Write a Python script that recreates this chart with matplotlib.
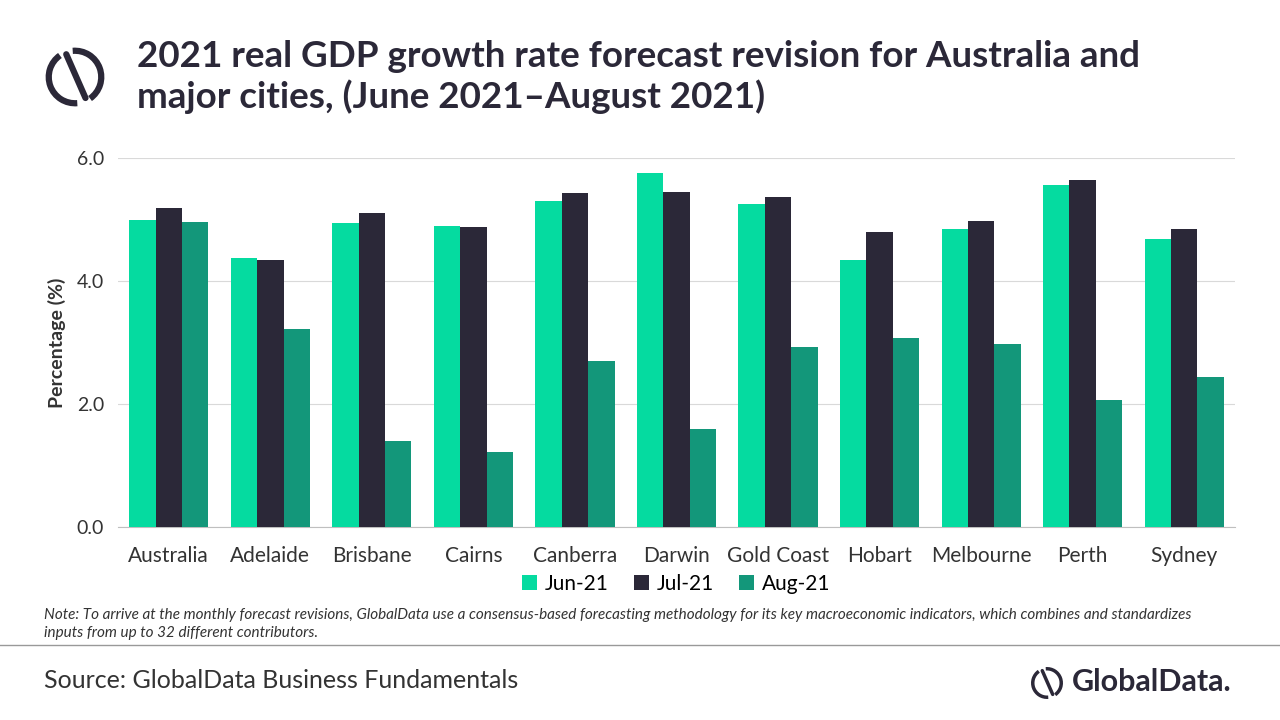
import matplotlib.pyplot as plt
import numpy as np
from matplotlib.patches import Arc
from matplotlib.lines import Line2D

plt.rcParams['font.family'] = ['Lato', 'DejaVu Sans']

cities = ['Australia', 'Adelaide', 'Brisbane', 'Cairns', 'Canberra', 'Darwin',
          'Gold Coast', 'Hobart', 'Melbourne', 'Perth', 'Sydney']
jun21 = [4.99, 4.37, 4.95, 4.89, 5.30, 5.76, 5.25, 4.34, 4.85, 5.56, 4.68]
jul21 = [5.19, 4.34, 5.10, 4.88, 5.43, 5.45, 5.37, 4.80, 4.98, 5.64, 4.84]
aug21 = [4.96, 3.22, 1.40, 1.22, 2.70, 1.59, 2.93, 3.07, 2.98, 2.07, 2.44]
series = [('Jun-21', jun21, '#05DBA0'), ('Jul-21', jul21, '#2B2838'), ('Aug-21', aug21, '#13977A')]

fig = plt.figure(figsize=(12.8, 7.2), dpi=100)
ax = fig.add_axes([118 / 1280, 1 - 527 / 720, (1235 - 118) / 1280, (527 - 158) / 720])

x = np.arange(len(cities))
w = 0.26
for i, (name, vals, col) in enumerate(series):
    ax.bar(x + (i - 1) * w, vals, w, color=col, label=name, zorder=3)

ax.set_ylim(0, 6)
ax.set_xlim(-0.5, len(cities) - 0.5)
ax.set_yticks([0, 2, 4, 6])
ax.set_yticklabels(['0.0', '2.0', '4.0', '6.0'], fontsize=14, color='#333333')
ax.set_xticks(x)
ax.set_xticklabels(cities, fontsize=15, color='#333333')
ax.tick_params(axis='x', length=0, pad=14)
ax.tick_params(axis='y', length=0, pad=10)
ax.grid(axis='y', color='#d9d9d9', lw=0.8, zorder=0)
for s in ['top', 'right', 'left']:
    ax.spines[s].set_visible(False)
ax.spines['bottom'].set_color('#bfbfbf')
ax.set_ylabel('Percentage (%)', fontsize=14, fontweight='bold', color='#333333', labelpad=8)
ax.legend(loc='center', bbox_to_anchor=(0.5, -(584 - 527) / 369), ncol=3, frameon=False,
          fontsize=15, handlelength=0.7, handleheight=0.7, columnspacing=1.2, handletextpad=0.4)

fig.text(137 / 1280, 1 - 77 / 720, '2021 real GDP growth rate forecast revision for Australia and\nmajor cities, (June 2021–August 2021)',
         fontsize=26.5, fontweight='bold', color='#2B2838', va='center', linespacing=1.25)


def logo(rect, lw):
    lax = fig.add_axes(rect)
    lax.set_xlim(-1, 1); lax.set_ylim(-1, 1); lax.axis('off')
    lax.add_patch(Arc((0, 0), 1.5, 1.5, theta1=125, theta2=275, lw=lw, color='#2B2838'))
    lax.add_patch(Arc((0, 0), 1.5, 1.5, theta1=305, theta2=95, lw=lw, color='#2B2838'))
    lax.plot([-0.25, 0.3], [0.65, -0.6], color='#2B2838', lw=lw, solid_capstyle='round')


logo([40 / 1280, 1 - 112 / 720, 70 / 1280, 70 / 720], 4.5)

fig.text(44 / 1280, 1 - 624 / 720,
         'Note: To arrive at the monthly forecast revisions, GlobalData use a consensus-based forecasting methodology for its key macroeconomic indicators, which combines and standardizes\ninputs from up to 32 different contributors.',
         fontsize=11, style='italic', color='#333333', va='center', linespacing=1.3)
fig.add_artist(Line2D([0, 1], [1 - 645 / 720] * 2, color='#999999', lw=1))
fig.text(44 / 1280, 1 - 680 / 720, 'Source: GlobalData Business Fundamentals',
         fontsize=18, color='#333333', va='center')
fig.text(1232 / 1280, 1 - 682 / 720, 'GlobalData.', fontsize=22, color='#2B2838',
         va='center', ha='right', fontweight='bold')
logo([1028 / 1280, 1 - 702 / 720, 38 / 1280, 38 / 720], 2.5)

fig.savefig('out.png', dpi=100)
